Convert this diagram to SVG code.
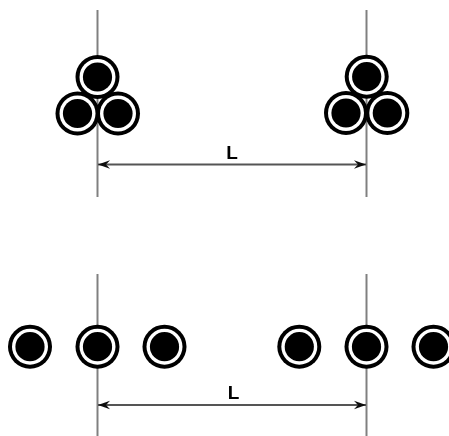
<svg xmlns="http://www.w3.org/2000/svg" width="449" height="436" viewBox="0 0 449 436">
  <style>
    .axis { stroke: #808080; stroke-width: 2; fill: none; }
    .dim { stroke: #555; stroke-width: 1.8; fill: none; marker-start: url(#arr); marker-end: url(#arr); }
    .lbl { font-family: "Liberation Sans", Arial, sans-serif; font-weight: 700; font-size: 19px; fill: #000; text-anchor: middle; }
  </style>
  <defs>
    <marker id="arr" viewBox="0 0 13 10" refX="12.5" refY="5" markerUnits="userSpaceOnUse" markerWidth="13" markerHeight="10" orient="auto-start-reverse">
      <path d="M12.5 5 L0.5 0.8 L4.5 5 L0.5 9.2 Z" fill="#111"/>
    </marker>
    <filter id="soft" x="-5%" y="-5%" width="110%" height="110%"><feGaussianBlur stdDeviation="0.75"/></filter>
    <g id="cable">
      <circle r="22" fill="#000"/>
      <circle r="18" fill="#fff"/>
      <circle r="14.6" fill="#000"/>
    </g>
  </defs>
  <rect width="449" height="436" fill="#fff"/>
  <g filter="url(#soft)">
    <g id="connectors">
      <line class="axis" x1="97.5" y1="10" x2="97.5" y2="197"/>
      <line class="axis" x1="366.5" y1="10" x2="366.5" y2="197"/>
      <line class="axis" x1="97.5" y1="274" x2="97.5" y2="440"/>
      <line class="axis" x1="366.5" y1="274" x2="366.5" y2="440"/>
      <line class="dim" x1="98" y1="164.5" x2="366" y2="164.5"/>
      <line class="dim" x1="98" y1="405" x2="366" y2="405"/>
    </g>
    <g id="cable-tl-top"><use href="#cable" x="97.5" y="77"/></g>
    <g id="cable-tl-left"><use href="#cable" x="77.5" y="113.5"/></g>
    <g id="cable-tl-right"><use href="#cable" x="118" y="113.5"/></g>
    <g id="cable-tr-top"><use href="#cable" x="366.7" y="76.7"/></g>
    <g id="cable-tr-left"><use href="#cable" x="346" y="113"/></g>
    <g id="cable-tr-right"><use href="#cable" x="387.3" y="113"/></g>
    <g id="cable-b1"><use href="#cable" x="30" y="346.7"/></g>
    <g id="cable-b2"><use href="#cable" x="97.5" y="346.7"/></g>
    <g id="cable-b3"><use href="#cable" x="164.5" y="346.7"/></g>
    <g id="cable-b4"><use href="#cable" x="299.3" y="346.7"/></g>
    <g id="cable-b5"><use href="#cable" x="366.5" y="346.7"/></g>
    <g id="cable-b6"><use href="#cable" x="433.5" y="346.7"/></g>
    <g id="labels">
      <text class="lbl" x="232" y="159">L</text>
      <text class="lbl" x="233.5" y="399">L</text>
    </g>
  </g>
</svg>
